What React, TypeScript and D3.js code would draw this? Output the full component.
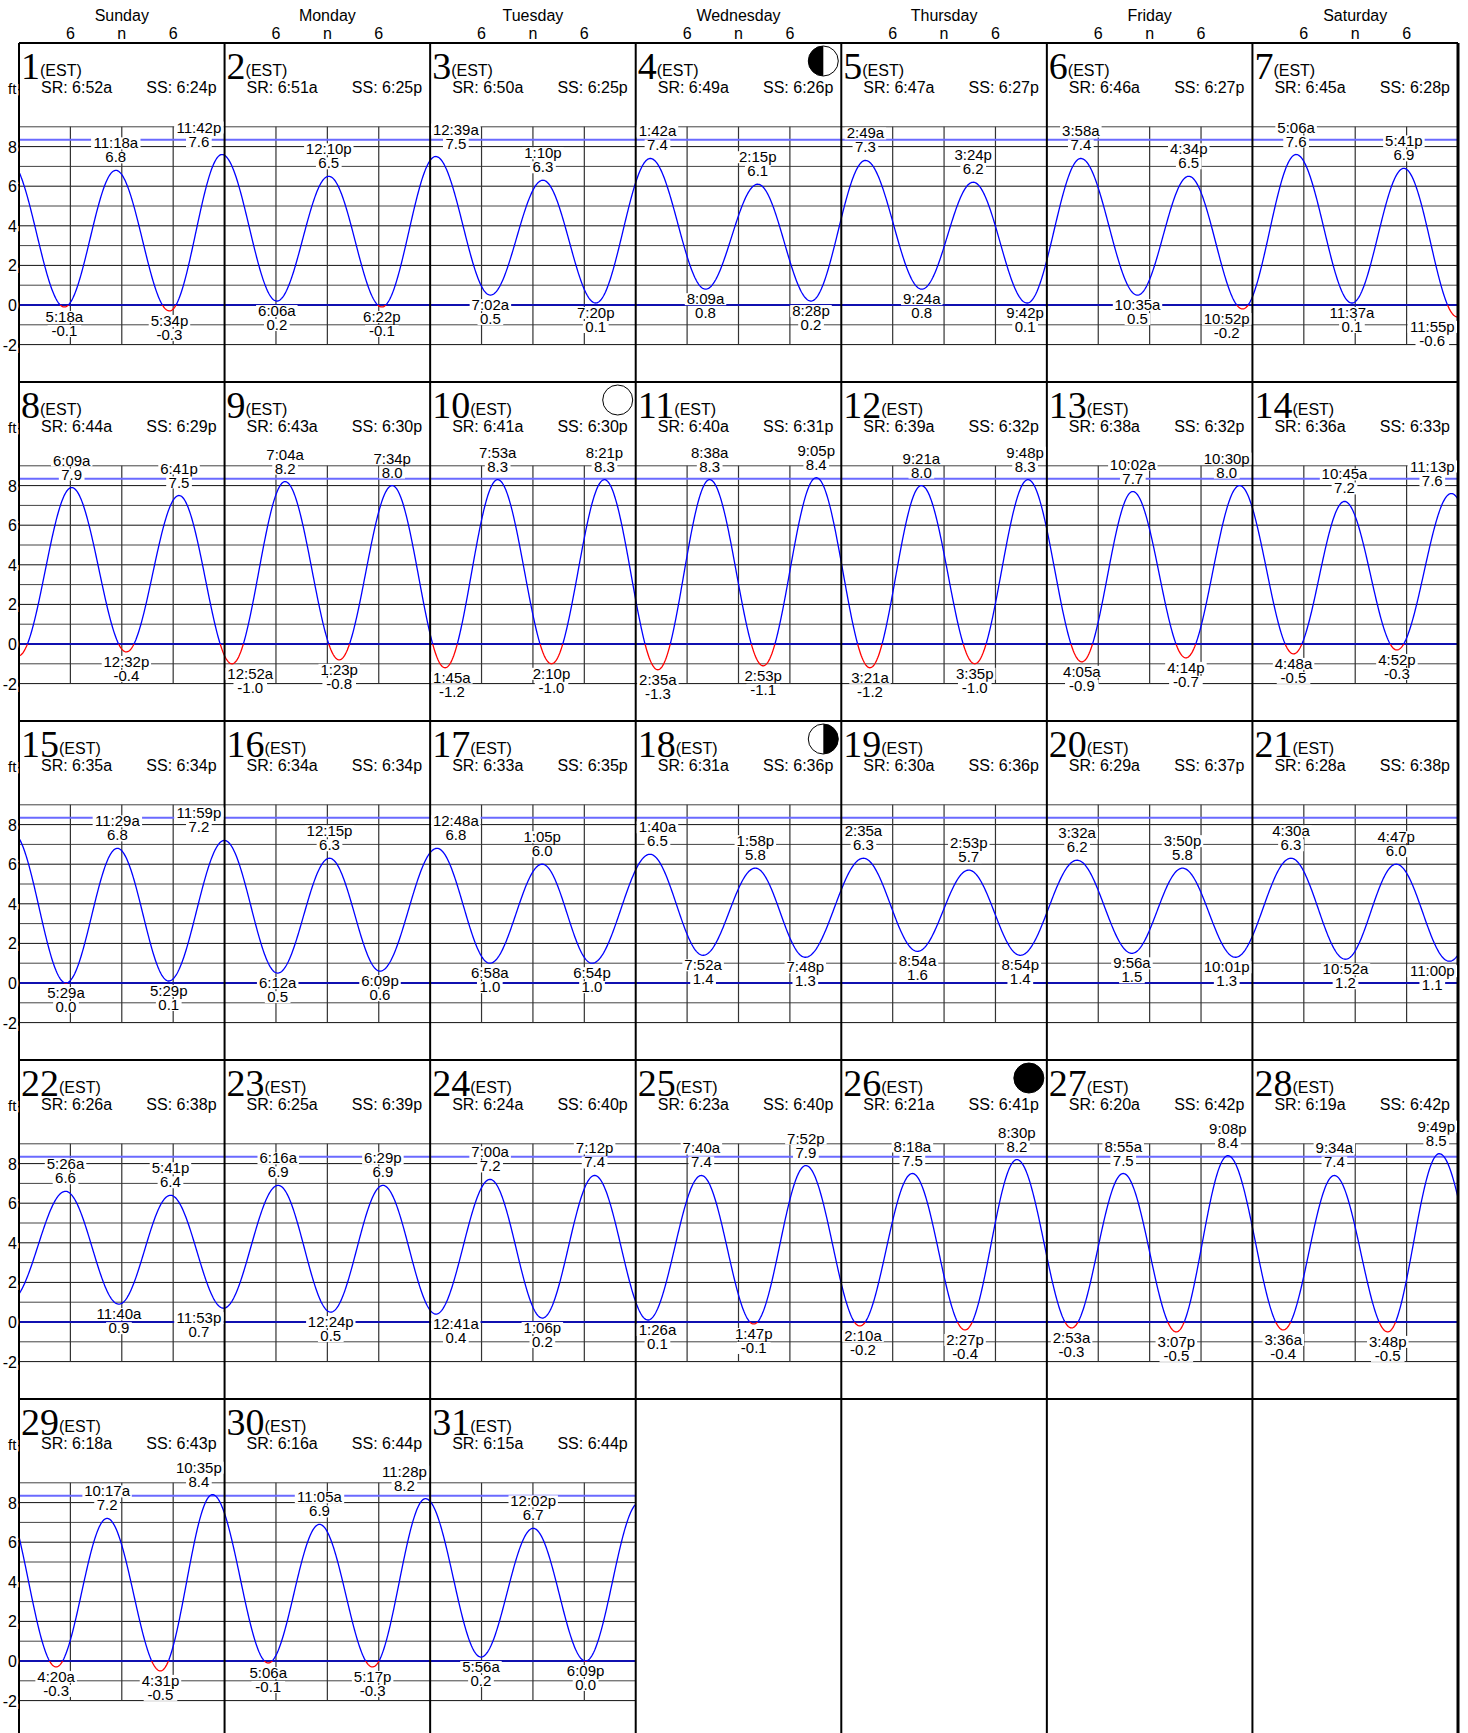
import * as d3 from 'd3';

// Jan 2017 tide calendar, times local (EST)
const weekdays = ['Sunday', 'Monday', 'Tuesday', 'Wednesday', 'Thursday', 'Friday', 'Saturday'];
const hourTicks = [6, 12, 18];
const hourLabels = ['6', 'n', '6'];
const ftTicks = [8, 6, 4, 2, 0, -2];

const sunrise = ['6:52a', '6:51a', '6:50a', '6:49a', '6:47a', '6:46a', '6:45a', '6:44a', '6:43a', '6:41a', '6:40a', '6:39a', '6:38a', '6:36a', '6:35a', '6:34a', '6:33a', '6:31a', '6:30a', '6:29a', '6:28a', '6:26a', '6:25a', '6:24a', '6:23a', '6:21a', '6:20a', '6:19a', '6:18a', '6:16a', '6:15a'];
const sunset = ['6:24p', '6:25p', '6:25p', '6:26p', '6:27p', '6:27p', '6:28p', '6:29p', '6:30p', '6:30p', '6:31p', '6:32p', '6:32p', '6:33p', '6:34p', '6:34p', '6:35p', '6:36p', '6:36p', '6:37p', '6:38p', '6:38p', '6:39p', '6:40p', '6:40p', '6:41p', '6:42p', '6:42p', '6:43p', '6:44p', '6:44p'];

// [time, height ft] per day of January
const tides: [string, number][][] = [
  [['5:18a', -0.1], ['11:18a', 6.8], ['5:34p', -0.3], ['11:42p', 7.6]],
  [['6:06a', 0.2], ['12:10p', 6.5], ['6:22p', -0.1]],
  [['12:39a', 7.5], ['7:02a', 0.5], ['1:10p', 6.3], ['7:20p', 0.1]],
  [['1:42a', 7.4], ['8:09a', 0.8], ['2:15p', 6.1], ['8:28p', 0.2]],
  [['2:49a', 7.3], ['9:24a', 0.8], ['3:24p', 6.2], ['9:42p', 0.1]],
  [['3:58a', 7.4], ['10:35a', 0.5], ['4:34p', 6.5], ['10:52p', -0.2]],
  [['5:06a', 7.6], ['11:37a', 0.1], ['5:41p', 6.9], ['11:55p', -0.6]],
  [['6:09a', 7.9], ['12:32p', -0.4], ['6:41p', 7.5]],
  [['12:52a', -1.0], ['7:04a', 8.2], ['1:23p', -0.8], ['7:34p', 8.0]],
  [['1:45a', -1.2], ['7:53a', 8.3], ['2:10p', -1.0], ['8:21p', 8.3]],
  [['2:35a', -1.3], ['8:38a', 8.3], ['2:53p', -1.1], ['9:05p', 8.4]],
  [['3:21a', -1.2], ['9:21a', 8.0], ['3:35p', -1.0], ['9:48p', 8.3]],
  [['4:05a', -0.9], ['10:02a', 7.7], ['4:14p', -0.7], ['10:30p', 8.0]],
  [['4:48a', -0.5], ['10:45a', 7.2], ['4:52p', -0.3], ['11:13p', 7.6]],
  [['5:29a', 0.0], ['11:29a', 6.8], ['5:29p', 0.1], ['11:59p', 7.2]],
  [['6:12a', 0.5], ['12:15p', 6.3], ['6:09p', 0.6]],
  [['12:48a', 6.8], ['6:58a', 1.0], ['1:05p', 6.0], ['6:54p', 1.0]],
  [['1:40a', 6.5], ['7:52a', 1.4], ['1:58p', 5.8], ['7:48p', 1.3]],
  [['2:35a', 6.3], ['8:54a', 1.6], ['2:53p', 5.7], ['8:54p', 1.4]],
  [['3:32a', 6.2], ['9:56a', 1.5], ['3:50p', 5.8], ['10:01p', 1.3]],
  [['4:30a', 6.3], ['10:52a', 1.2], ['4:47p', 6.0], ['11:00p', 1.1]],
  [['5:26a', 6.6], ['11:40a', 0.9], ['5:41p', 6.4], ['11:53p', 0.7]],
  [['6:16a', 6.9], ['12:24p', 0.5], ['6:29p', 6.9]],
  [['12:41a', 0.4], ['7:00a', 7.2], ['1:06p', 0.2], ['7:12p', 7.4]],
  [['1:26a', 0.1], ['7:40a', 7.4], ['1:47p', -0.1], ['7:52p', 7.9]],
  [['2:10a', -0.2], ['8:18a', 7.5], ['2:27p', -0.4], ['8:30p', 8.2]],
  [['2:53a', -0.3], ['8:55a', 7.5], ['3:07p', -0.5], ['9:08p', 8.4]],
  [['3:36a', -0.4], ['9:34a', 7.4], ['3:48p', -0.5], ['9:49p', 8.5]],
  [['4:20a', -0.3], ['10:17a', 7.2], ['4:31p', -0.5], ['10:35p', 8.4]],
  [['5:06a', -0.1], ['11:05a', 6.9], ['5:17p', -0.3], ['11:28p', 8.2]],
  [['5:56a', 0.2], ['12:02p', 6.7], ['6:09p', 0.0]],
];
// neighbours outside the month (Dec 31 evening, Feb 1 early), only for the curve ends
const tideBefore: [string, number] = ['10:50p', 7.3];
const tideAfter: [string, number] = ['12:25a', 8.0];

const moonDays = [4, 10, 18, 26];
const moonPhases = ['first', 'full', 'last', 'new'];

const W = 1468;
const H = 1733;
const left = 19;
const right = 1458;
const top = 43;
const rowH = 339;
const colW = (right - left) / 7;
const font = 'Liberation Sans, Arial, sans-serif';

function toMin(t: string) {
  const m = t.match(/(\d+):(\d+)([ap])/)!;
  let h = +m[1] % 12;
  if (m[3] === 'p') h += 12;
  return h * 60 + +m[2];
}

export default function App() {
  const y = d3.scaleLinear().domain([0, 1]).range([262, 242.2]); // per-row offset, 19.8px per ft
  const yr = (row: number, v: number) => top + row * rowH + y(v);

  // flatten extremes to absolute day units (day 0 = Jan 1 00:00)
  const ext = [
    { t: -1 + toMin(tideBefore[0]) / 1440, v: tideBefore[1], day: -1, label: '' },
    ...tides.flatMap((d, i) => d.map(([tm, v]) => ({ t: i + toMin(tm) / 1440, v, day: i, label: tm }))),
    { t: 31 + toMin(tideAfter[0]) / 1440, v: tideAfter[1], day: 31, label: '' },
  ];
  const isHigh = ext.map((e, i) => {
    const n = ext[i + 1] ?? ext[i - 1];
    return e.v > n.v;
  });

  const tideAt = (t: number) => {
    const i = d3.bisector((e: { t: number }) => e.t).right(ext, t) - 1;
    const a = ext[Math.max(0, i)];
    const b = ext[Math.min(ext.length - 1, i + 1)];
    if (a === b) return a.v;
    const f = (t - a.t) / (b.t - a.t);
    return a.v + (b.v - a.v) * (1 - Math.cos(Math.PI * f)) / 2;
  };

  const rows = [0, 1, 2, 3, 4];
  const els: JSX.Element[] = [];

  rows.forEach((r) => {
    const ncols = r === 4 ? 3 : 7;
    const r0 = top + r * rowH;
    const x = d3.scaleLinear().domain([r * 7, r * 7 + 7]).range([left, right]);
    const xEnd = left + ncols * colW;
    // horizontal grid
    d3.range(-2, 10).forEach((v) =>
      els.push(<line key={`g${r}${v}`} x1={left} x2={xEnd} y1={yr(r, v)} y2={yr(r, v)} stroke={v % 2 ? '#444' : '#111'} strokeWidth={1} />)
    );
    // hour grid
    d3.range(ncols).forEach((c) =>
      hourTicks.forEach((h) => {
        const hx = x(r * 7 + c + h / 24);
        els.push(<line key={`v${r}${c}${h}`} x1={hx} x2={hx} y1={yr(r, 9)} y2={yr(r, -2)} stroke="#333" strokeWidth={1.2} />);
      })
    );
    els.push(<line key={`mh${r}`} x1={left} x2={xEnd} y1={yr(r, 8.35)} y2={yr(r, 8.35)} stroke="#6a6aff" strokeWidth={2} />);
    els.push(<line key={`z${r}`} x1={left} x2={xEnd} y1={yr(r, 0)} y2={yr(r, 0)} stroke="#1010b0" strokeWidth={2} />);

    // tide curve
    const t0 = r * 7;
    const t1 = t0 + ncols;
    const samples = d3.range(0, (t1 - t0) * 288 + 1).map((k) => t0 + k / 288);
    const line = d3.line<number>().x((t) => x(t)).y((t) => yr(r, tideAt(t)));
    const d = line(samples) ?? '';
    els.push(
      <g key={`c${r}`}>
        <clipPath id={`ab${r}`}><rect x={left} y={r0} width={xEnd - left} height={yr(r, 0) - r0} /></clipPath>
        <clipPath id={`be${r}`}><rect x={left} y={yr(r, 0)} width={xEnd - left} height={rowH} /></clipPath>
        <path d={d} fill="none" stroke="#0000ff" strokeWidth={1.3} clipPath={`url(#ab${r})`} />
        <path d={d} fill="none" stroke="#ff0000" strokeWidth={1.3} clipPath={`url(#be${r})`} />
      </g>
    );

    // borders
    const rowBottom = r === 4 ? H : r0 + rowH;
    d3.range(8).forEach((c) => {
      const bx = left + c * colW;
      els.push(<line key={`b${r}${c}`} x1={bx} x2={bx} y1={r0} y2={rowBottom} stroke="#000" strokeWidth={c === 7 ? 3 : 2} />);
    });
    els.push(<line key={`t${r}`} x1={left} x2={right} y1={r0} y2={r0} stroke="#000" strokeWidth={2} />);

    // axis labels
    els.push(<text key={`ft${r}`} x={8} y={r0 + 51} fontSize={15} fontFamily={font} stroke="#fff" strokeWidth={4} paintOrder="stroke">ft</text>);
    ftTicks.forEach((v) =>
      els.push(
        <text key={`yl${r}${v}`} x={17} y={yr(r, v) + 6} textAnchor="end" fontSize={16} fontFamily={font} stroke="#fff" strokeWidth={4} paintOrder="stroke">{v}</text>
      )
    );
  });

  // header
  weekdays.forEach((w, c) => {
    const cx = left + (c + 0.5) * colW;
    els.push(<text key={`wd${c}`} x={cx} y={21} textAnchor="middle" fontSize={16} fontFamily={font}>{w}</text>);
    hourTicks.forEach((h, k) =>
      els.push(<text key={`hl${c}${k}`} x={left + (c + h / 24) * colW} y={39} textAnchor="middle" fontSize={16} fontFamily={font}>{hourLabels[k]}</text>)
    );
  });

  // day headers
  tides.forEach((_, i) => {
    const r = Math.floor(i / 7);
    const c = i % 7;
    const cx0 = left + c * colW;
    const r0 = top + r * rowH;
    els.push(
      <text key={`dn${i}`} x={cx0 + 2} y={r0 + 36} fontFamily="Liberation Serif, Times New Roman, serif" fontSize={38}>
        {i + 1}
        <tspan fontFamily={font} fontSize={16} dy={-3}>(EST)</tspan>
      </text>
    );
    els.push(<text key={`sr${i}`} x={cx0 + 22} y={r0 + 50} fontSize={16} fontFamily={font}>{`SR: ${sunrise[i]}`}</text>);
    els.push(<text key={`ss${i}`} x={cx0 + colW - 8} y={r0 + 50} textAnchor="end" fontSize={16} fontFamily={font}>{`SS: ${sunset[i]}`}</text>);
  });

  // extreme labels, kept inside their day's cell
  ext.forEach((e, i) => {
    if (e.day < 0 || e.day > 30) return;
    const r = Math.floor(e.day / 7);
    const cellL = left + (e.day % 7) * colW;
    const xRaw = left + (e.t - r * 7) * colW;
    const py = yr(r, e.v);
    const ys = isHigh[i] ? [py - 22, py - 8] : [py + 15, py + 29];
    const labels = [e.label, e.v.toFixed(1)];
    const wMax = d3.max(labels, (s) => s.length * 7.9)! + 2;
    const x = Math.max(cellL + wMax / 2 + 1, Math.min(cellL + colW - wMax / 2 - 1, xRaw));
    labels.forEach((s, k) => {
      const w = s.length * 7.9 + 2;
      els.push(
        <g key={`el${i}${k}`}>
          <rect x={x - w / 2} y={ys[k] - 11} width={w} height={12} fill="#fff" />
          <text x={x} y={ys[k]} textAnchor="middle" fontSize={15} fontFamily={font}>{s}</text>
        </g>
      );
    });
  });

  // moon phases
  moonDays.forEach((dday, k) => {
    const i = dday - 1;
    const r = Math.floor(i / 7);
    const c = i % 7;
    const cx = left + (c + 1) * colW - 18;
    const cy = top + r * rowH + 18;
    const rr = 15;
    const ph = moonPhases[k];
    els.push(
      <g key={`m${k}`}>
        <circle cx={cx} cy={cy} r={rr} fill={ph === 'new' ? '#000' : '#fff'} stroke="#000" strokeWidth={1} />
        {ph === 'first' && <path d={`M${cx},${cy - rr}A${rr},${rr} 0 0 0 ${cx},${cy + rr}Z`} fill="#000" />}
        {ph === 'last' && <path d={`M${cx},${cy - rr}A${rr},${rr} 0 0 1 ${cx},${cy + rr}Z`} fill="#000" />}
      </g>
    );
  });

  return (
    <svg width={W} height={H} style={{ position: 'absolute', left: 0, top: 0, background: '#fff' }}>
      {els}
    </svg>
  );
}
